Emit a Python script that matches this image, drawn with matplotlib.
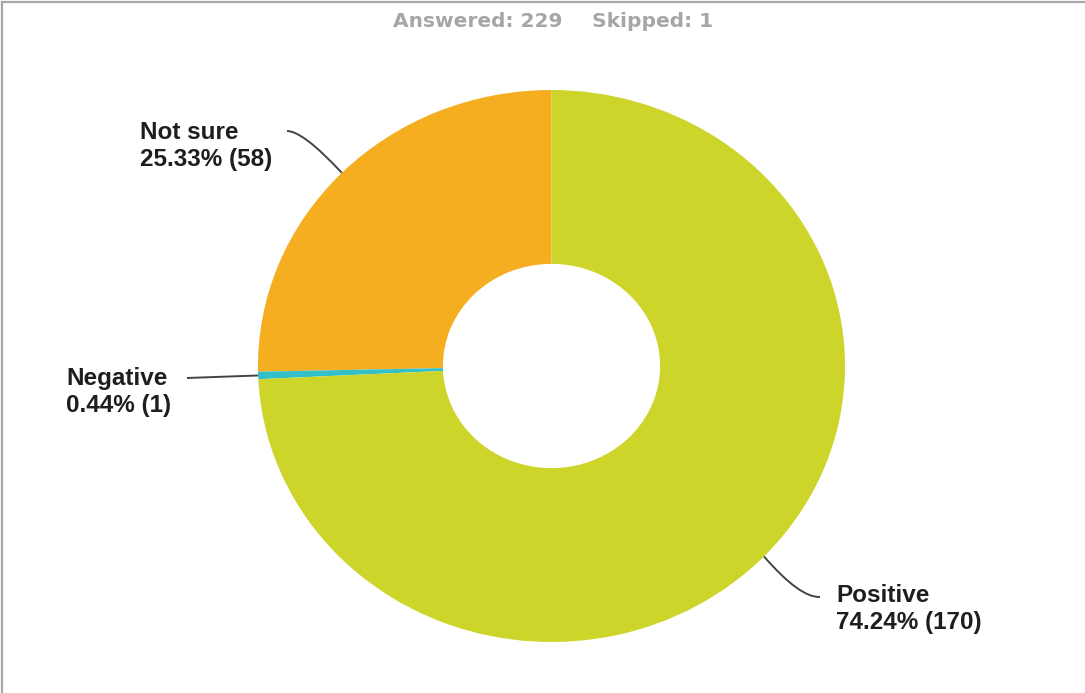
import matplotlib
matplotlib.use("Agg")
import matplotlib.pyplot as plt
from matplotlib.path import Path
from matplotlib.patches import PathPatch
import numpy as np

# Survey responses
categories = ["Not sure", "Negative", "Positive"]
counts = [58, 1, 170]
answered = 229
skipped = 1
colors = ["#F5AE1F", "#34C0C8", "#CDD52A"]

W, H = 1085, 693
fig = plt.figure(figsize=(W / 100, H / 100), dpi=100)
ax = fig.add_axes([0, 0, 1, 1])

# Donut geometry in pixels (slightly wider than tall)
cx, cy, rx, ry = 551.5, 366.0, 293.5, 276.0

def to_data(px, py):
    return ((px - cx) / rx, (cy - py) / ry)

wedges, _ = ax.pie(counts, colors=colors, startangle=90, counterclock=True,
                   radius=1.0, wedgeprops=dict(width=0.63, linewidth=0))
ax.set_aspect("auto")
ax.set_xlim(-cx / rx, (W - cx) / rx)
ax.set_ylim(-(H - cy) / ry, cy / ry)
ax.axis("off")

total = sum(counts)
label_font = dict(family=["Liberation Sans", "DejaVu Sans"], fontweight="bold",
                  fontsize=17.5, color="#1e1e1e", linespacing=1.22)

# Label anchor (text top-left, pixels) and leader-line routing per category
label_pos = {
    "Not sure": (140, 121),
    "Negative": (66, 367),
    "Positive": (836, 584),
}
leader_end = {
    "Not sure": (287, 131),
    "Negative": (187, 378),
    "Positive": (820, 597),
}

for w, name, n in zip(wedges, categories, counts):
    mid = np.deg2rad((w.theta1 + w.theta2) / 2)
    ax_pt = (np.cos(mid), np.sin(mid))
    end = to_data(*leader_end[name])
    if name == "Negative":
        verts = [ax_pt, end]
        codes = [Path.MOVETO, Path.LINETO]
    elif name == "Not sure":
        ctrl = to_data(303, 131)
        verts = [ax_pt, ctrl, end]
        codes = [Path.MOVETO, Path.CURVE3, Path.CURVE3]
    else:
        ctrl = to_data(800, 598)
        verts = [ax_pt, ctrl, end]
        codes = [Path.MOVETO, Path.CURVE3, Path.CURVE3]
    ax.add_patch(PathPatch(Path(verts, codes), fill=False, edgecolor="#444444",
                           linewidth=1.4, clip_on=False))
    pct = 100 * n / total
    tx, ty = to_data(*label_pos[name])
    ax.text(tx, ty, f"{name}\n{pct:.2f}% ({n})", ha="left", va="top",
            **label_font)

# Header counts
title_font = dict(family=["DejaVu Sans"], fontweight="bold", fontsize=14.5,
                  color="#A6A6A6")
fig.text(393 / W, 1 - 27 / H, f"Answered: {answered}", ha="left",
         va="baseline", **title_font)
fig.text(592 / W, 1 - 27 / H, f"Skipped: {skipped}", ha="left",
         va="baseline", **title_font)

# Frame lines along the top and left edges
fig.add_artist(plt.Line2D([1.5 / W, 1], [1 - 2 / H, 1 - 2 / H],
                          transform=fig.transFigure, color="#A8A8A8", linewidth=1.6))
fig.add_artist(plt.Line2D([1.5 / W, 1.5 / W], [0, 1 - 2 / H],
                          transform=fig.transFigure, color="#A8A8A8", linewidth=1.6))

fig.savefig("out.png", dpi=100, facecolor="white")
